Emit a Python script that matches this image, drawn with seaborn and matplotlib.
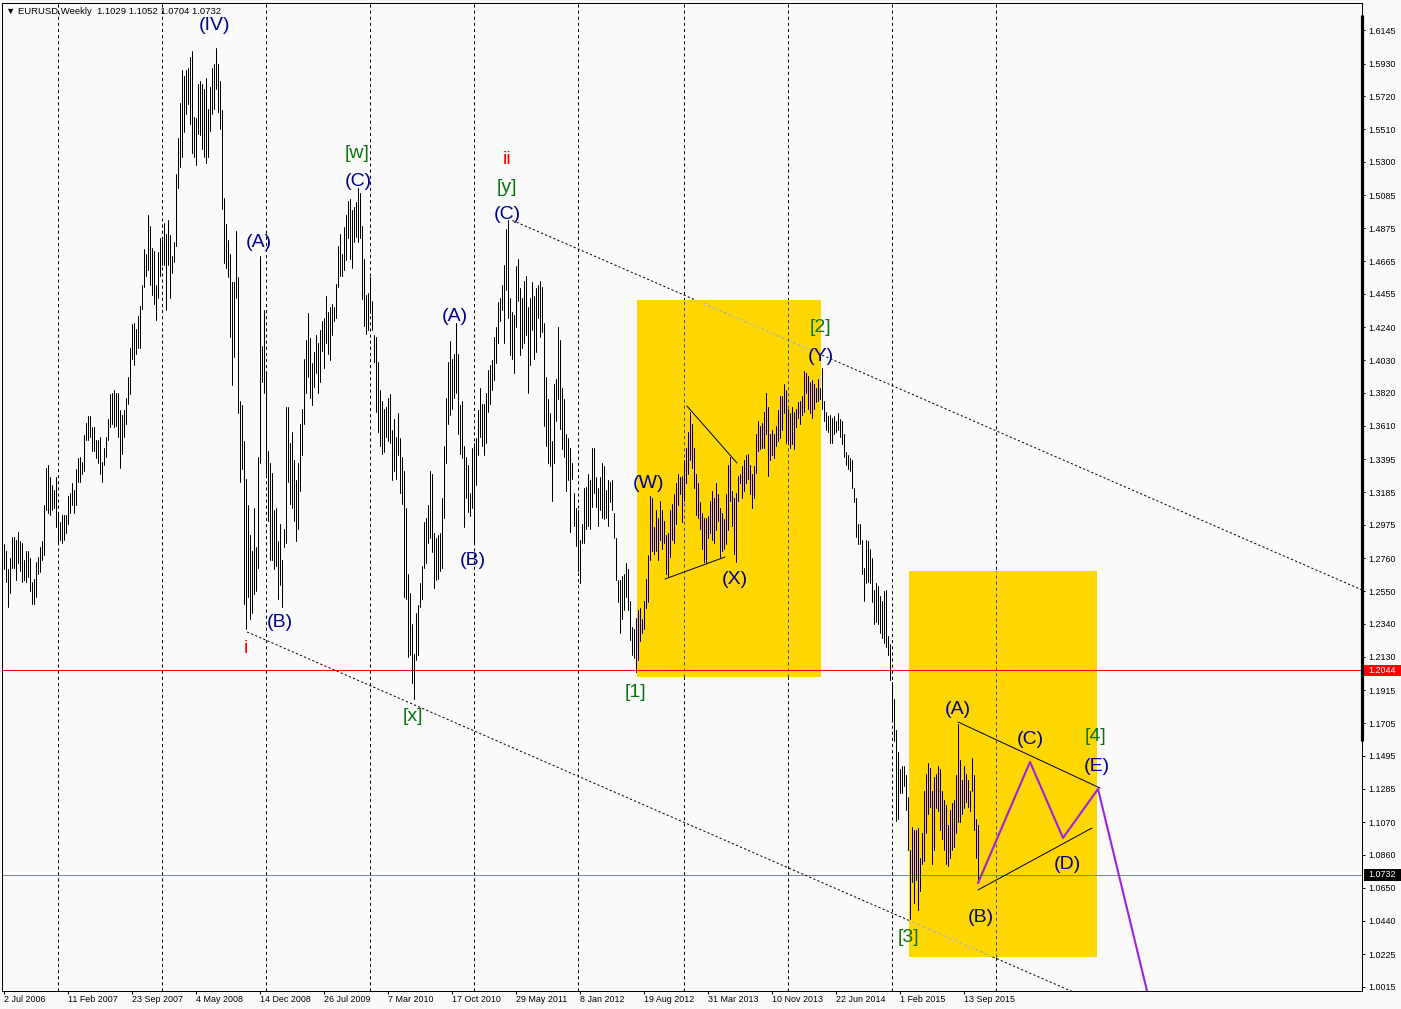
import numpy as np
import pandas as pd
import matplotlib
matplotlib.use("Agg")
import matplotlib.pyplot as plt
import matplotlib.patches as patches
import matplotlib.transforms as mtransforms
import seaborn as sns

# EURUSD weekly bars (high / low), first bar = week of 2 Jul 2006
bar_high = [
    1.285, 1.281, 1.269, 1.276, 1.290, 1.290, 1.288, 1.293, 1.287, 1.286,
    1.275, 1.281, 1.281, 1.276, 1.261, 1.263, 1.274, 1.277, 1.283, 1.287,
    1.310, 1.334, 1.336, 1.328, 1.323, 1.320, 1.328, 1.305, 1.299, 1.304,
    1.304, 1.304, 1.316, 1.318, 1.324, 1.320, 1.333, 1.340, 1.341, 1.338,
    1.355, 1.363, 1.367, 1.367, 1.360, 1.360, 1.352, 1.352, 1.354, 1.338,
    1.347, 1.354, 1.365, 1.381, 1.382, 1.384, 1.382, 1.382, 1.371, 1.368,
    1.371, 1.379, 1.392, 1.411, 1.426, 1.427, 1.423, 1.431, 1.438, 1.451,
    1.474, 1.471, 1.496, 1.489, 1.475, 1.473, 1.451, 1.472, 1.481, 1.480,
    1.491, 1.484, 1.493, 1.483, 1.470, 1.479, 1.522, 1.545, 1.568, 1.589,
    1.585, 1.589, 1.590, 1.597, 1.601, 1.559, 1.558, 1.580, 1.582, 1.580,
    1.577, 1.584, 1.564, 1.578, 1.590, 1.593, 1.603, 1.593, 1.582, 1.563,
    1.507, 1.490, 1.480, 1.471, 1.453, 1.453, 1.486, 1.456, 1.377, 1.374,
    1.351, 1.327, 1.310, 1.291, 1.281, 1.308, 1.283, 1.341, 1.470, 1.412,
    1.435, 1.395, 1.345, 1.337, 1.331, 1.307, 1.308, 1.287, 1.298, 1.275,
    1.295, 1.373, 1.373, 1.350, 1.357, 1.339, 1.326, 1.337, 1.362, 1.372,
    1.404, 1.416, 1.433, 1.417, 1.401, 1.408, 1.419, 1.414, 1.422, 1.428,
    1.430, 1.444, 1.434, 1.437, 1.439, 1.437, 1.452, 1.476, 1.484, 1.471,
    1.488, 1.496, 1.505, 1.506, 1.499, 1.501, 1.504, 1.513, 1.510, 1.489,
    1.468, 1.445, 1.446, 1.456, 1.441, 1.419, 1.418, 1.402, 1.384, 1.377,
    1.372, 1.373, 1.379, 1.381, 1.358, 1.365, 1.354, 1.369, 1.353, 1.341,
    1.332, 1.308, 1.266, 1.254, 1.234, 1.215, 1.241, 1.246, 1.260, 1.271,
    1.299, 1.302, 1.310, 1.332, 1.330, 1.292, 1.289, 1.291, 1.292, 1.315,
    1.348, 1.379, 1.402, 1.415, 1.404, 1.407, 1.427, 1.407, 1.374, 1.377,
    1.348, 1.341, 1.336, 1.318, 1.347, 1.350, 1.353, 1.371, 1.385, 1.375,
    1.375, 1.382, 1.397, 1.400, 1.403, 1.418, 1.424, 1.440, 1.443, 1.451,
    1.464, 1.487, 1.493, 1.443, 1.434, 1.432, 1.463, 1.468, 1.449, 1.443,
    1.454, 1.457, 1.437, 1.443, 1.453, 1.444, 1.449, 1.451, 1.454, 1.450,
    1.427, 1.392, 1.378, 1.369, 1.351, 1.388, 1.391, 1.424, 1.416, 1.385,
    1.378, 1.356, 1.353, 1.347, 1.337, 1.318, 1.308, 1.307, 1.288, 1.298,
    1.321, 1.322, 1.330, 1.326, 1.347, 1.347, 1.328, 1.321, 1.328, 1.337,
    1.335, 1.320, 1.326, 1.325, 1.326, 1.305, 1.289, 1.262, 1.262, 1.265,
    1.266, 1.273, 1.269, 1.249, 1.232, 1.231, 1.238, 1.243, 1.244, 1.237,
    1.249, 1.263, 1.278, 1.316, 1.315, 1.296, 1.307, 1.302, 1.313, 1.307,
    1.300, 1.291, 1.292, 1.307, 1.311, 1.317, 1.324, 1.330, 1.328, 1.329,
    1.339, 1.347, 1.357, 1.370, 1.362, 1.347, 1.330, 1.324, 1.312, 1.305,
    1.302, 1.302, 1.303, 1.313, 1.319, 1.315, 1.324, 1.317, 1.308, 1.305,
    1.301, 1.317, 1.336, 1.341, 1.319, 1.315, 1.318, 1.329, 1.330, 1.335,
    1.339, 1.342, 1.343, 1.336, 1.330, 1.335, 1.356, 1.364, 1.361, 1.363,
    1.370, 1.382, 1.373, 1.356, 1.358, 1.356, 1.361, 1.371, 1.380, 1.380,
    1.388, 1.384, 1.372, 1.369, 1.373, 1.370, 1.372, 1.376, 1.377, 1.380,
    1.396, 1.395, 1.393, 1.389, 1.390, 1.388, 1.385, 1.391, 1.385, 1.398,
    1.377, 1.370, 1.367, 1.368, 1.366, 1.367, 1.364, 1.369, 1.365, 1.364,
    1.356, 1.344, 1.342, 1.340, 1.339, 1.321, 1.315, 1.298, 1.298, 1.288,
    1.270, 1.288, 1.287, 1.282, 1.276, 1.256, 1.260, 1.258, 1.252, 1.249,
    1.255, 1.256, 1.226, 1.221, 1.197, 1.186, 1.166, 1.152, 1.141, 1.143,
    1.143, 1.137, 1.123, 1.089, 1.104, 1.102, 1.102, 1.103, 1.084, 1.100,
    1.127, 1.138, 1.145, 1.142, 1.127, 1.136, 1.138, 1.143, 1.141, 1.127,
    1.121, 1.118, 1.105, 1.115, 1.119, 1.121, 1.137, 1.170, 1.147, 1.134,
    1.143, 1.138, 1.134, 1.127, 1.148, 1.137, 1.109, 1.1052,
]
bar_low = [
    1.269, 1.261, 1.245, 1.254, 1.270, 1.270, 1.262, 1.273, 1.268, 1.261,
    1.262, 1.261, 1.264, 1.255, 1.247, 1.247, 1.251, 1.266, 1.267, 1.275,
    1.278, 1.307, 1.305, 1.304, 1.307, 1.308, 1.296, 1.285, 1.288, 1.286,
    1.288, 1.292, 1.298, 1.305, 1.310, 1.305, 1.310, 1.325, 1.325, 1.330,
    1.332, 1.352, 1.352, 1.354, 1.345, 1.345, 1.340, 1.337, 1.330, 1.325,
    1.336, 1.341, 1.352, 1.360, 1.362, 1.360, 1.361, 1.354, 1.334, 1.343,
    1.354, 1.362, 1.375, 1.381, 1.404, 1.400, 1.407, 1.411, 1.411, 1.436,
    1.450, 1.457, 1.461, 1.451, 1.445, 1.439, 1.429, 1.443, 1.457, 1.464,
    1.464, 1.435, 1.464, 1.443, 1.459, 1.466, 1.476, 1.513, 1.527, 1.533,
    1.549, 1.561, 1.567, 1.554, 1.536, 1.533, 1.528, 1.548, 1.547, 1.538,
    1.533, 1.529, 1.533, 1.550, 1.561, 1.564, 1.577, 1.562, 1.551, 1.500,
    1.465, 1.462, 1.456, 1.418, 1.387, 1.405, 1.443, 1.369, 1.325, 1.333,
    1.247, 1.231, 1.251, 1.237, 1.241, 1.253, 1.255, 1.270, 1.337, 1.389,
    1.382, 1.330, 1.300, 1.275, 1.275, 1.269, 1.271, 1.250, 1.259, 1.245,
    1.283, 1.286, 1.325, 1.311, 1.308, 1.300, 1.287, 1.295, 1.319, 1.342,
    1.362, 1.382, 1.392, 1.379, 1.374, 1.386, 1.395, 1.382, 1.389, 1.409,
    1.398, 1.414, 1.407, 1.403, 1.419, 1.428, 1.430, 1.450, 1.457, 1.457,
    1.461, 1.467, 1.481, 1.468, 1.462, 1.479, 1.482, 1.479, 1.481, 1.442,
    1.425, 1.420, 1.422, 1.433, 1.422, 1.402, 1.370, 1.357, 1.348, 1.343,
    1.344, 1.354, 1.351, 1.350, 1.326, 1.332, 1.327, 1.342, 1.318, 1.311,
    1.251, 1.250, 1.213, 1.214, 1.196, 1.186, 1.211, 1.214, 1.245, 1.250,
    1.270, 1.273, 1.286, 1.289, 1.280, 1.257, 1.262, 1.263, 1.268, 1.270,
    1.302, 1.337, 1.362, 1.368, 1.372, 1.379, 1.382, 1.356, 1.343, 1.340,
    1.296, 1.315, 1.306, 1.303, 1.308, 1.286, 1.323, 1.342, 1.354, 1.348,
    1.342, 1.350, 1.370, 1.375, 1.384, 1.390, 1.401, 1.414, 1.428, 1.435,
    1.414, 1.448, 1.430, 1.406, 1.404, 1.395, 1.424, 1.441, 1.406, 1.411,
    1.414, 1.419, 1.382, 1.400, 1.422, 1.404, 1.408, 1.430, 1.418, 1.421,
    1.361, 1.348, 1.337, 1.335, 1.313, 1.337, 1.364, 1.378, 1.359, 1.346,
    1.341, 1.319, 1.326, 1.293, 1.327, 1.297, 1.284, 1.268, 1.260, 1.286,
    1.286, 1.295, 1.297, 1.295, 1.309, 1.318, 1.309, 1.297, 1.307, 1.302,
    1.301, 1.302, 1.297, 1.312, 1.307, 1.289, 1.262, 1.248, 1.228, 1.237,
    1.243, 1.251, 1.243, 1.224, 1.214, 1.212, 1.203, 1.211, 1.223, 1.228,
    1.231, 1.244, 1.248, 1.275, 1.281, 1.279, 1.281, 1.275, 1.288, 1.282,
    1.286, 1.266, 1.264, 1.277, 1.288, 1.286, 1.298, 1.310, 1.317, 1.299,
    1.313, 1.324, 1.330, 1.339, 1.334, 1.321, 1.304, 1.302, 1.295, 1.282,
    1.274, 1.273, 1.289, 1.292, 1.288, 1.286, 1.294, 1.300, 1.277, 1.281,
    1.282, 1.285, 1.294, 1.313, 1.297, 1.279, 1.274, 1.313, 1.324, 1.315,
    1.319, 1.324, 1.327, 1.317, 1.308, 1.315, 1.331, 1.345, 1.346, 1.347,
    1.347, 1.356, 1.329, 1.339, 1.342, 1.340, 1.348, 1.351, 1.353, 1.358,
    1.369, 1.350, 1.349, 1.347, 1.349, 1.346, 1.360, 1.366, 1.362, 1.368,
    1.370, 1.382, 1.372, 1.369, 1.366, 1.372, 1.376, 1.377, 1.378, 1.372,
    1.364, 1.358, 1.357, 1.350, 1.350, 1.356, 1.357, 1.358, 1.354, 1.349,
    1.341, 1.336, 1.333, 1.332, 1.321, 1.312, 1.290, 1.285, 1.285, 1.266,
    1.249, 1.260, 1.261, 1.260, 1.248, 1.234, 1.235, 1.234, 1.228, 1.225,
    1.222, 1.219, 1.214, 1.198, 1.172, 1.159, 1.108, 1.109, 1.126, 1.126,
    1.130, 1.115, 1.089, 1.045, 1.069, 1.055, 1.070, 1.051, 1.063, 1.080,
    1.082, 1.100, 1.112, 1.117, 1.080, 1.089, 1.116, 1.114, 1.102, 1.096,
    1.089, 1.080, 1.079, 1.084, 1.089, 1.091, 1.100, 1.107, 1.107, 1.112,
    1.116, 1.120, 1.117, 1.114, 1.127, 1.102, 1.084, 1.0704,
]

price_ticks = [1.6145, 1.5930, 1.5720, 1.5510, 1.5300, 1.5085, 1.4875, 1.4665, 1.4455, 1.4240,
               1.4030, 1.3820, 1.3610, 1.3395, 1.3185, 1.2975, 1.2760, 1.2550, 1.2340, 1.2130,
               1.1915, 1.1705, 1.1495, 1.1285, 1.1070, 1.0860, 1.0650, 1.0440, 1.0225, 1.0015]
date_bars = [0, 32, 64, 96, 128, 160, 192, 224, 256, 288, 320, 352, 384, 416, 448, 480]
date_labels = ["2 Jul 2006", "11 Feb 2007", "23 Sep 2007", "4 May 2008", "14 Dec 2008",
               "26 Jul 2009", "7 Mar 2010", "17 Oct 2010", "29 May 2011", "8 Jan 2012",
               "19 Aug 2012", "31 Mar 2013", "10 Nov 2013", "22 Jun 2014", "1 Feb 2015",
               "13 Sep 2015"]
year_bars = [27, 79, 131, 183, 235, 287, 340, 392, 444, 496]

# wave count labels
NAVY, GREEN, RED = "#00008B", "#0B730B", "#FF0000"
wave_text = ["(IV)", "(A)", "(B)", "(C)", "[w]", "(A)", "(B)", "ii", "[y]", "(C)", "i", "[x]",
             "(W)", "(X)", "[1]", "[2]", "(Y)", "(A)", "(C)", "[4]", "(E)", "(D)", "(B)", "[3]"]
wave_bar = [105.25, 127.75, 138.25, 177.25, 176.75, 225.75, 234.75, 251.75, 251.75, 251.75,
            121.25, 204.75, 322.75, 365.75, 315.75, 408.25, 408.75, 477.25, 513.25, 546.25,
            546.75, 531.75, 488.75, 452.25]
wave_price = [1.6190, 1.4800, 1.2365, 1.5190, 1.5370, 1.4326, 1.2763, 1.5331, 1.5152, 1.4979,
              1.2199, 1.1763, 1.3256, 1.2641, 1.1917, 1.4255, 1.4069, 1.1808, 1.1616, 1.1635,
              1.1443, 1.0815, 1.0476, 1.0348]
wave_color = [NAVY, NAVY, NAVY, NAVY, GREEN, NAVY, NAVY, RED, GREEN, NAVY, RED, GREEN,
              NAVY, NAVY, GREEN, GREEN, NAVY, NAVY, NAVY, GREEN, NAVY, NAVY, NAVY, GREEN]

# projected path (B)-(C)-(D)-(E) and beyond
proj_bar = [487.25, 513.25, 529.75, 547.25, 572.5]
proj_price = [1.0680, 1.1456, 1.0969, 1.1283, 0.9950]

# channel lines and triangle boundaries
upper_channel = ([254.5, 679.25], [1.4925, 1.2558])
lower_channel = ([121.75, 679.25], [1.2289, 0.9176])
triangles = [([341.75, 366.75], [1.3736, 1.3371]),
             ([330.75, 360.75], [1.2628, 1.2769]),
             ([477.25, 548.25], [1.1712, 1.1289]),
             ([487.25, 544.25], [1.0636, 1.1033])]

# highlighted zones (bar range, price range)
zones = [((316.75, 408.75), (1.2000, 1.4414)),
         ((452.75, 546.75), (1.0207, 1.2679))]

level_red = 1.2044
level_last = 1.0732

W, H = 1401, 1009
PX = 0.72  # one pixel in points at dpi 100

sns.set_style("white")
plt.rcParams["font.family"] = ["Liberation Sans", "DejaVu Sans"]
plt.rcParams["lines.scale_dashes"] = False
BG = "#FAFAFA"

fig = plt.figure(figsize=(W / 100, H / 100), dpi=100, facecolor=BG)
ax = fig.add_axes([2 / W, (H - 991) / H, 1360 / W, 988 / H], facecolor=BG)
ax.set_xlim(-0.75, 679.25)
ax.set_ylim(0.99887, 1.6318)

# year grid
for b in year_bars:
    ax.axvline(b, color="black", lw=PX, dashes=(2.2, 2.2), zorder=0.5)

# yellow zones with the grid showing through in blue
zone_patches = []
for (x0, x1), (y0, y1) in zones:
    rect = patches.Rectangle((x0, y0), x1 - x0, y1 - y0, facecolor="#FFD700",
                             edgecolor="none", zorder=1)
    ax.add_patch(rect)
    zone_patches.append(rect)
    for b in year_bars:
        if x0 < b < x1:
            ax.plot([b, b], [y0, y1], color="#2B46C8", lw=PX, dashes=(2.2, 2.2), zorder=1.5)

ax.axhline(level_red, color="red", lw=PX, zorder=2)
ax.axhline(level_last, color="#778899", lw=PX, zorder=2)

# price bars
n = len(bar_high)
bars = pd.DataFrame({
    "bar": np.repeat(np.arange(n), 2),
    "price": np.column_stack([bar_low, bar_high]).ravel(),
})
sns.lineplot(data=bars, x="bar", y="price", units="bar", estimator=None, sort=False,
             color="black", lw=PX, ax=ax, legend=False, zorder=3)

# dotted channel lines, white where they cross a yellow zone
for (xs, ys), zp in [(upper_channel, zone_patches[0]), (lower_channel, zone_patches[1])]:
    ax.plot(xs, ys, color="black", lw=PX, dashes=(1.6, 1.6), zorder=2.5)
    ln, = ax.plot(xs, ys, color="white", lw=PX, dashes=(1.6, 1.6), zorder=2.6)
    ln.set_clip_path(zp)

for xs, ys in triangles:
    ax.plot(xs, ys, color="black", lw=PX, zorder=3.5)

sns.lineplot(x=proj_bar, y=proj_price, sort=False, color="#A020E0", lw=1.5, ax=ax, zorder=3.6)

label_tr = mtransforms.offset_copy(ax.transData, fig=fig, y=-2.5, units="dots")
for t, b, p, c in zip(wave_text, wave_bar, wave_price, wave_color):
    ax.text(b, p, t, color=c, fontsize=14, ha="center", va="center", zorder=5,
            transform=label_tr)

# axes frame and scales
for s in ax.spines.values():
    s.set_color("black")
    s.set_linewidth(PX)
ax.set_xlabel("")
ax.set_ylabel("")
ax.yaxis.tick_right()
ax.set_yticks(price_ticks)
ax.set_yticklabels([f"{v:.4f}" for v in price_ticks])
ax.set_xticks(date_bars)
ax.set_xticklabels(date_labels, ha="left")
ax.tick_params(axis="y", which="both", right=True, left=False, direction="out",
               length=2, width=PX, pad=2.9, labelsize=6.4, colors="black")
ax.tick_params(axis="x", which="both", bottom=True, direction="out",
               length=2.2, width=PX, pad=1.0, labelsize=6.4, colors="black")

# heavy part of the price scale
ax.plot([1, 1], [1.1590, 1.6241], transform=ax.get_yaxis_transform(), color="black",
        lw=2.3, solid_capstyle="butt", clip_on=False, zorder=6)

# current price boxes on the scale
ytr = ax.get_yaxis_transform()
for lvl, fc in [(level_red, "red"), (level_last, "black")]:
    ax.add_patch(patches.Rectangle((1.0015, lvl - 0.0036), 0.028, 0.0072, transform=ytr,
                                   facecolor=fc, edgecolor="none", clip_on=False, zorder=6))
    ax.text(1.0044, lvl, f"{lvl:.4f}", transform=ytr, color="white", fontsize=6.4,
            ha="left", va="center", clip_on=False, zorder=7)

fig.text(6 / W, 1 - 11 / H, "\u25bc EURUSD,Weekly  1.1029 1.1052 1.0704 1.0732",
         fontsize=6.8, ha="left", va="center", color="black")

fig.savefig("out.png", dpi=100, facecolor=BG)
